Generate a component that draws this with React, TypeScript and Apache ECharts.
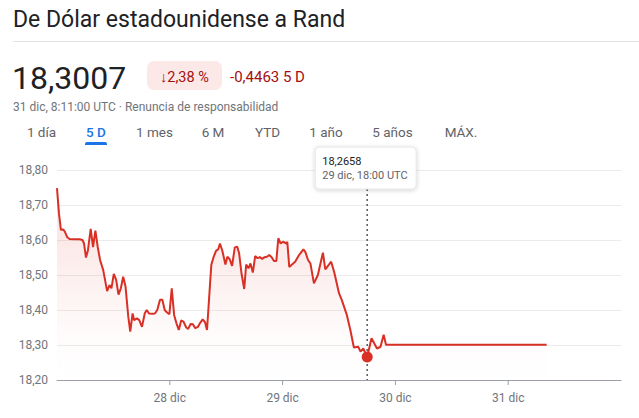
import React, { useEffect, useRef } from "react";
import * as echarts from "echarts";

const title = "De Dólar estadounidense a Rand";
const price = "18,3007";
const changePct = "↓2,38 %";
const changeAbs = "-0,4463 5 D";
const stamp = "31 dic, 8:11:00 UTC · Renuncia de responsabilidad";
const tabs = ["1 día", "5 D", "1 mes", "6 M", "YTD", "1 año", "5 años", "MÁX."];
const tabCenters = [41.5, 96, 154.5, 213, 267.5, 326, 392.5, 461];
const activeTab = 1;

const axisStart = "2023-12-27T00:00:00Z";
const axisEnd = "2024-01-01T00:00:00Z";
const tickDays = ["2023-12-28T00:00:00Z", "2023-12-29T00:00:00Z", "2023-12-30T00:00:00Z", "2023-12-31T00:00:00Z"];
const yTicks = [18.2, 18.3, 18.4, 18.5, 18.6, 18.7, 18.8];

const times = [
  "27T00:00", "27T00:25", "27T00:50", "27T01:20", "27T01:40", "27T02:10", "27T02:40", "27T03:40",
  "27T04:50", "27T05:25", "27T05:45", "27T06:10", "27T06:35", "27T07:10", "27T07:40", "27T08:10",
  "27T08:40", "27T09:10", "27T09:50", "27T10:40", "27T11:10", "27T11:35", "27T12:05", "27T12:35",
  "27T13:05", "27T13:35", "27T14:05", "27T14:35", "27T15:10", "27T15:35", "27T16:05", "27T16:25",
  "27T17:00", "27T17:30", "27T18:05", "27T18:40", "27T19:05", "27T19:35", "27T20:20", "27T20:50",
  "27T21:20", "27T21:55", "27T22:25", "27T22:55", "27T23:25", "27T23:55",
  "28T00:25", "28T00:55", "28T01:25", "28T01:55", "28T02:25", "28T02:55", "28T03:30", "28T03:55",
  "28T04:25", "28T04:55", "28T05:25", "28T06:00", "28T06:30", "28T07:00", "28T07:30", "28T07:55",
  "28T08:50", "28T09:20", "28T09:50", "28T10:20", "28T10:40", "28T11:10", "28T11:50", "28T12:15",
  "28T12:45", "28T13:15", "28T13:50", "28T14:20", "28T14:45", "28T15:15", "28T15:50", "28T16:15",
  "28T16:45", "28T17:10", "28T17:40", "28T18:10", "28T18:40", "28T19:10", "28T19:40", "28T20:10",
  "28T20:40", "28T21:10", "28T21:40", "28T22:10", "28T22:40", "28T23:05", "28T23:35",
  "29T00:05", "29T00:50", "29T01:00", "29T01:25", "29T02:40", "29T03:30", "29T04:25", "29T04:50",
  "29T05:25", "29T05:55", "29T06:40", "29T07:30", "29T08:35", "29T09:05", "29T10:20", "29T11:00",
  "29T12:00", "29T12:35", "29T13:40", "29T14:25", "29T15:10", "29T16:05", "29T16:35", "29T17:10",
  "29T18:00", "29T18:55", "29T20:05", "29T20:50", "29T21:30", "29T22:00",
  "31T08:11",
];
const values = [
  18.748, 18.676, 18.629, 18.63, 18.624, 18.608, 18.603, 18.602,
  18.602, 18.6, 18.59, 18.55, 18.571, 18.632, 18.58, 18.627,
  18.58, 18.543, 18.514, 18.454, 18.471, 18.462, 18.503, 18.486,
  18.444, 18.462, 18.495, 18.467, 18.381, 18.338, 18.39, 18.371,
  18.376, 18.371, 18.352, 18.39, 18.4, 18.39, 18.389, 18.39,
  18.4, 18.429, 18.429, 18.4, 18.393, 18.388,
  18.462, 18.386, 18.362, 18.343, 18.37, 18.367, 18.35, 18.346,
  18.36, 18.359, 18.348, 18.352, 18.364, 18.373, 18.365, 18.343,
  18.529, 18.552, 18.569, 18.574, 18.59, 18.57, 18.53, 18.552,
  18.545, 18.526, 18.579, 18.581, 18.562, 18.505, 18.46, 18.53,
  18.519, 18.533, 18.507, 18.554, 18.548, 18.551, 18.546, 18.551,
  18.552, 18.557, 18.551, 18.54, 18.54, 18.605, 18.59,
  18.595, 18.59, 18.595, 18.523, 18.538, 18.557, 18.573, 18.566,
  18.543, 18.533, 18.476, 18.5, 18.564, 18.516, 18.538, 18.507,
  18.448, 18.429, 18.386, 18.343, 18.293, 18.295, 18.281, 18.29,
  18.2658, 18.319, 18.29, 18.295, 18.329, 18.3007,
  18.3007,
];

const hoverTime = "29T18:00";
const hoverValue = 18.2658;
const hoverLabel = "18,2658";
const hoverDate = "29 dic, 18:00 UTC";

const toTs = (t: string) => Date.parse("2023-12-" + t + ":00Z");
const FONT = "Roboto, 'Noto Sans', sans-serif";
const RED = "#d93025";

export default function App() {
  const ref = useRef<HTMLDivElement>(null);
  useEffect(() => {
    if (!ref.current) return;
    const chart = echarts.init(ref.current, undefined, { renderer: "svg" });
    const xMin = Date.parse(axisStart);
    const xMax = Date.parse(axisEnd);
    const data = times.map((t, i) => [toTs(t), values[i]]);
    const hoverTs = toTs(hoverTime);

    chart.setOption({
      animation: false,
      backgroundColor: "#ffffff",
      textStyle: { fontFamily: FONT },
      grid: { left: 57, right: 18, top: 170, bottom: 38 },
      xAxis: {
        type: "value",
        min: xMin,
        max: xMax,
        interval: 86400000,
        axisLine: { show: true, lineStyle: { color: "#9aa0a6", width: 1 } },
        axisTick: { show: false },
        splitLine: { show: false },
        axisLabel: {
          showMinLabel: false,
          showMaxLabel: false,
          margin: 12,
          color: "#70757a",
          fontSize: 12,
          fontFamily: FONT,
          formatter: (v: number) => {
            if (v <= xMin || v >= xMax) return "";
            return new Date(v).getUTCDate() + " dic";
          },
        },
      },
      yAxis: {
        type: "value",
        min: yTicks[0],
        max: yTicks[yTicks.length - 1],
        interval: 0.1,
        axisLine: { show: false },
        axisTick: { show: false },
        splitLine: { show: true, lineStyle: { color: "#ebebeb", width: 1 } },
        axisLabel: {
          margin: 9,
          color: "#70757a",
          fontSize: 12,
          fontFamily: FONT,
          formatter: (v: number) => v.toFixed(2).replace(".", ","),
        },
      },
      series: [
        {
          type: "line",
          data,
          showSymbol: false,
          symbol: "none",
          lineStyle: { color: RED, width: 2 },
          itemStyle: { color: RED },
          areaStyle: {
            color: new echarts.graphic.LinearGradient(0, 0, 0, 1, [
              { offset: 0, color: "rgba(217,48,37,0.22)" },
              { offset: 0.75, color: "rgba(217,48,37,0.03)" },
              { offset: 1, color: "rgba(217,48,37,0)" },
            ]),
          },
          markPoint: {
            silent: true,
            symbol: "circle",
            symbolSize: 11,
            itemStyle: { color: RED },
            label: { show: false },
            data: [{ coord: [hoverTs, hoverValue] }],
          },
          z: 3,
        },
      ],
    });

    const yBase = chart.convertToPixel({ yAxisIndex: 0 }, yTicks[0]) as number;
    const hx = chart.convertToPixel({ xAxisIndex: 0 }, hoverTs) as number;
    const tickEls = tickDays.map((d) => {
      const x = chart.convertToPixel({ xAxisIndex: 0 }, Date.parse(d)) as number;
      return {
        type: "line",
        shape: { x1: x, y1: yBase, x2: x, y2: yBase + 5 },
        style: { stroke: "#9aa0a6", lineWidth: 1 },
        silent: true,
      };
    });
    const boxW = 101;
    const boxX = hx - 52;
    const boxY = 147;
    const boxH = 42;

    const tabEls = tabs.map((t, i) => ({
      type: "text",
      x: tabCenters[i],
      y: 132,
      style: {
        text: t,
        fill: i === activeTab ? "#1a73e8" : "#5f6368",
        font: (i === activeTab ? "500 " : "") + "13.5px " + FONT,
        align: "center",
        verticalAlign: "middle",
      },
    }));

    chart.setOption({
      graphic: [
        { type: "text", x: 13, y: 19, style: { text: title, fill: "#202124", font: "23px " + FONT, verticalAlign: "middle" } },
        { type: "line", shape: { x1: 13, y1: 41.5, x2: 639, y2: 41.5 }, style: { stroke: "#e3e3e3", lineWidth: 1 } },
        { type: "text", x: 12, y: 77.5, style: { text: price, fill: "#202124", font: "32px " + FONT, verticalAlign: "middle" } },
        { type: "rect", shape: { x: 147, y: 61, width: 75, height: 29, r: 7 }, style: { fill: "#fce8e6" } },
        { type: "text", x: 184.5, y: 77, style: { text: changePct, fill: "#a50e0e", font: "14.5px " + FONT, align: "center", verticalAlign: "middle" } },
        { type: "text", x: 230, y: 77, style: { text: changeAbs, fill: "#a50e0e", font: "15px " + FONT, verticalAlign: "middle" } },
        { type: "text", x: 13, y: 106.5, style: { text: stamp, fill: "#70757a", font: "12px " + FONT, verticalAlign: "middle" } },
        ...tabEls,
        { type: "rect", shape: { x: 85, y: 142, width: 22, height: 3, r: [2, 2, 0, 0] }, style: { fill: "#1a73e8" } },
        ...tickEls,
        {
          type: "line",
          shape: { x1: hx, y1: boxY + boxH, x2: hx, y2: yBase },
          style: { stroke: "#5f6368", lineWidth: 1.6, lineDash: [2, 3] },
          silent: true,
          z: 2,
        },
        {
          type: "rect",
          shape: { x: boxX, y: boxY, width: boxW, height: boxH, r: 4 },
          style: {
            fill: "#ffffff",
            stroke: "#e6e6e6",
            lineWidth: 1,
            shadowBlur: 4,
            shadowOffsetY: 1,
            shadowColor: "rgba(0,0,0,0.18)",
          },
          z: 10,
        },
        { type: "text", x: boxX + 7, y: boxY + 14, z: 11, style: { text: hoverLabel, fill: "#202124", font: "11px " + FONT, verticalAlign: "middle" } },
        { type: "text", x: boxX + 7, y: boxY + 28.5, z: 11, style: { text: hoverDate, fill: "#5f6368", font: "11px " + FONT, verticalAlign: "middle" } },
      ],
    });

    return () => chart.dispose();
  }, []);
  return (
    <div
      ref={ref}
      style={{ position: "absolute", left: 0, top: 0, width: 639, height: 418, background: "#fff" }}
    />
  );
}
